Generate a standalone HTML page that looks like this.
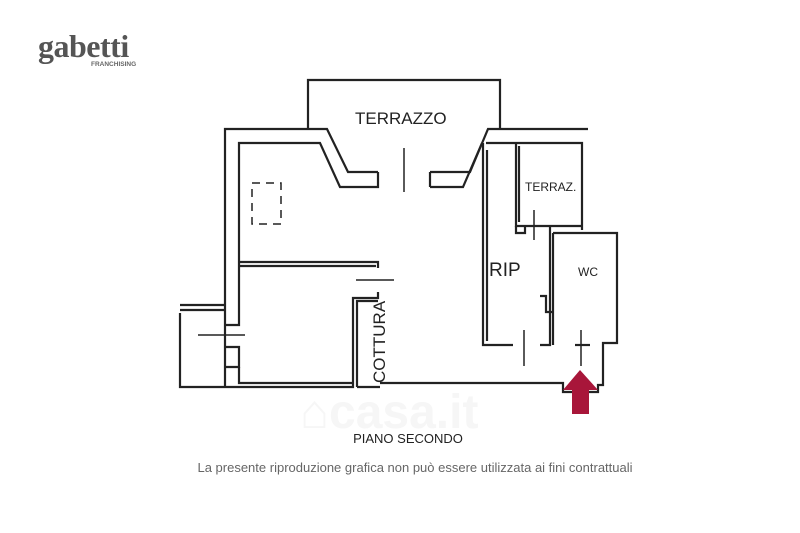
<!DOCTYPE html>
<html><head><meta charset="utf-8"><style>
html,body{margin:0;padding:0;background:#fff;width:800px;height:533px;overflow:hidden}
</style></head><body>
<svg width="800" height="533" viewBox="0 0 800 533" xmlns="http://www.w3.org/2000/svg" font-family="Liberation Sans, sans-serif">
<!-- logo -->
<text x="38" y="57" font-family="Liberation Serif, serif" font-weight="bold" font-size="32" fill="#555" letter-spacing="-0.5">gabetti</text>
<text x="91" y="66" font-size="6.5" font-weight="bold" fill="#666">FRANCHISING</text>
<!-- watermark -->
<text x="300" y="428" font-size="48" font-weight="bold" fill="#f6f6f6">⌂casa.it</text>
<g fill="none" stroke="#222" stroke-width="2.2" stroke-linejoin="miter">
<polyline points="308,129 308,80 500,80 500,129"/>
<polyline points="225,387 225,129 327,129 348,172 378,172"/>
<polyline points="239,320 239,143 320,143 340,187 378,187 378,172"/>
<polyline points="430,172 470,172 488,129 588,129"/>
<polyline points="430,187 430,172"/>
<polyline points="430,187 463,187 482,143"/>
<polyline points="483,143 483,345 513,345"/>
<polyline points="487,150 487,341"/>
<polyline points="486,143 582,143 582,230"/>
<polyline points="516,143 516,226 582,226"/>
<polyline points="519,146 519,222"/>
<polyline points="516,226 516,233 525,233 525,226"/>
<polyline points="550,226 550,345 540,345"/>
<polyline points="553,233 553,345"/>
<polyline points="553,233 617,233 617,343 603,343 603,385 598,385 598,392 563,392 563,383 380,383"/>
<polyline points="540,296 546,296 546,312 553,312"/>
<polyline points="575,345 590,345"/>
<polyline points="239,262 378,262 378,268"/>
<polyline points="239,266 376,266"/>
<polyline points="225,387 353,387 353,298 378,298 378,292"/>
<polyline points="357,387 357,301 378,301"/>
<polyline points="357,387 380,387"/>
<polyline points="180,305 225,305"/>
<polyline points="180,313 180,387 225,387"/>
<polyline points="180,310 225,310"/>
<polyline points="225,325 239,325 239,320"/>
<polyline points="225,347 239,347 239,367 225,367"/>
<polyline points="239,367 239,383 353,383"/>
</g>
<g stroke="#222" stroke-width="1.5" fill="none">
<line x1="404" y1="148" x2="404" y2="192"/>
<line x1="198" y1="335" x2="245" y2="335"/>
<line x1="356" y1="280" x2="394" y2="280"/>
<line x1="534" y1="210" x2="534" y2="240"/>
<line x1="524" y1="330" x2="524" y2="366"/>
<line x1="581" y1="330" x2="581" y2="366"/>
<rect x="252" y="183" width="29" height="41" stroke-dasharray="8,6"/>
</g>
<text x="355" y="124" font-size="17" fill="#222">TERRAZZO</text>
<text x="525" y="191" font-size="12" fill="#222">TERRAZ.</text>
<text x="489" y="276" font-size="19" fill="#222">RIP</text>
<text x="578" y="276" font-size="12" fill="#222">WC</text>
<text transform="translate(385,383) rotate(-90)" font-size="17" fill="#222">COTTURA</text>
<polygon points="580,370 598,390 589,390 589,414 572,414 572,390 563,390" fill="#a8163a"/>
<text x="408" y="443" font-size="13" fill="#222" text-anchor="middle">PIANO SECONDO</text>
<text x="415" y="472" font-size="13" fill="#666" text-anchor="middle">La presente riproduzione grafica non può essere utilizzata ai fini contrattuali</text>
</svg>
</body></html>
